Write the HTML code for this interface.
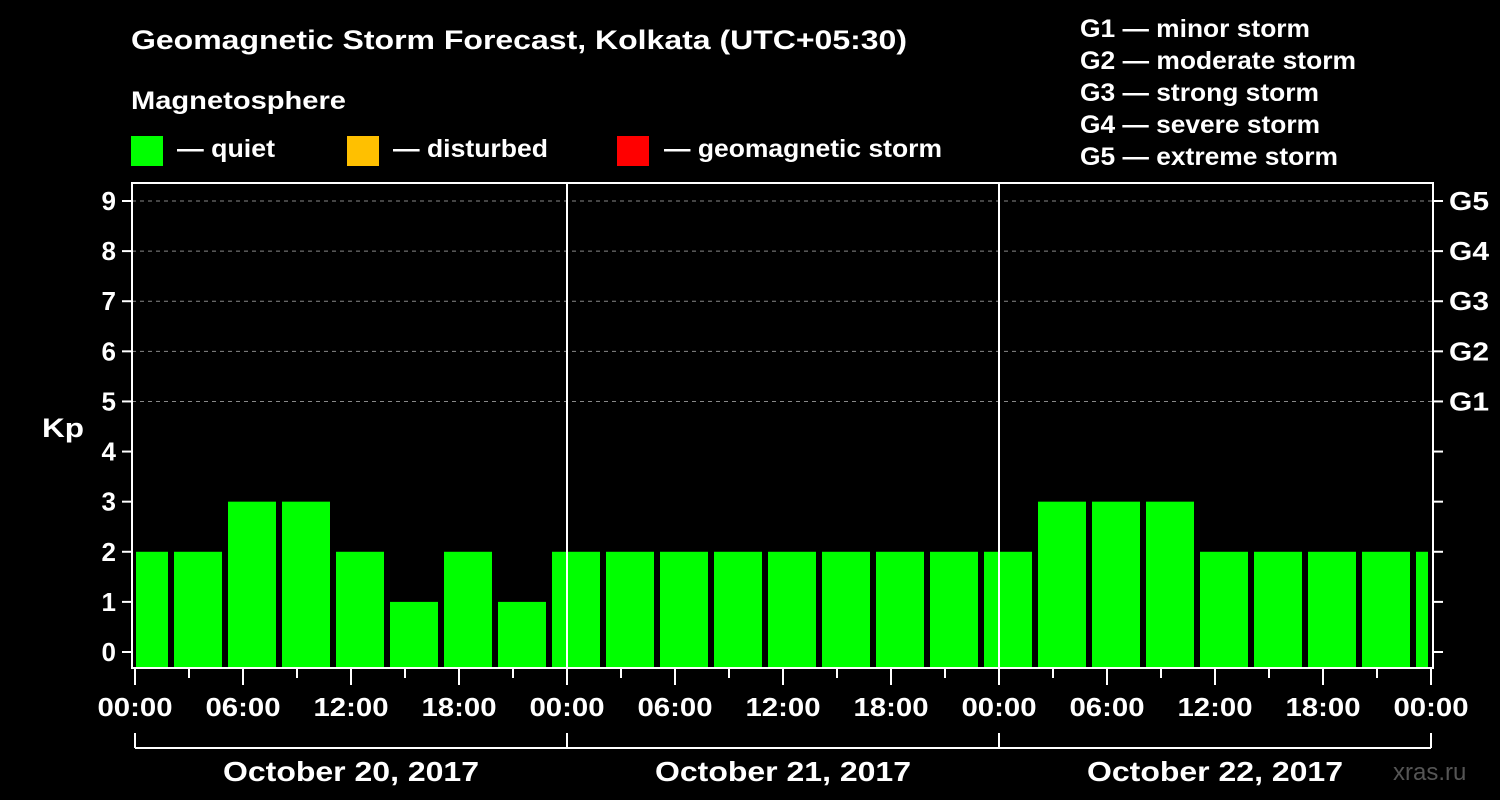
<!DOCTYPE html>
<html><head><meta charset="utf-8"><style>
html,body{margin:0;background:#000;overflow:hidden;}
svg{display:block;}
svg text{font-family:"Liberation Sans",Arial,sans-serif;font-weight:bold;fill:#fff;}
</style></head><body>
<svg id="c" width="1500" height="800" viewBox="0 0 1500 800" xmlns="http://www.w3.org/2000/svg" font-family="Liberation Sans, sans-serif">
<rect width="1500" height="800" fill="#000"/>
<text x="131" y="49" font-size="27" textLength="776" lengthAdjust="spacingAndGlyphs">Geomagnetic Storm Forecast, Kolkata (UTC+05:30)</text>
<text x="131" y="109" font-size="25" textLength="215" lengthAdjust="spacingAndGlyphs">Magnetosphere</text>
<g><rect x="131" y="136" width="32" height="30" fill="#00ff00"/><text x="177" y="157" font-size="25" textLength="98" lengthAdjust="spacingAndGlyphs">— quiet</text></g>
<g><rect x="347" y="136" width="32" height="30" fill="#ffc000"/><text x="393" y="157" font-size="25" textLength="155" lengthAdjust="spacingAndGlyphs">— disturbed</text></g>
<g><rect x="617" y="136" width="32" height="30" fill="#ff0000"/><text x="664" y="157" font-size="25" textLength="278" lengthAdjust="spacingAndGlyphs">— geomagnetic storm</text></g>
<g font-size="25">
<text x="1080" y="37" textLength="230" lengthAdjust="spacingAndGlyphs">G1 — minor storm</text>
<text x="1080" y="69" textLength="276" lengthAdjust="spacingAndGlyphs">G2 — moderate storm</text>
<text x="1080" y="101" textLength="239" lengthAdjust="spacingAndGlyphs">G3 — strong storm</text>
<text x="1080" y="133" textLength="240" lengthAdjust="spacingAndGlyphs">G4 — severe storm</text>
<text x="1080" y="165" textLength="258" lengthAdjust="spacingAndGlyphs">G5 — extreme storm</text>
</g>
<text x="42" y="437" font-size="27" textLength="42" lengthAdjust="spacingAndGlyphs">Kp</text>
<text x="1393" y="780" font-size="24" style="fill:#555;font-weight:normal">xras.ru</text>
<g id="plot"></g>
</svg>
<script>
const kpValues=[2,2,3,3,2,1,2,1,2,2,2,2,2,2,2,2,2,3,3,3,2,2,2,2,2];
const dayLabels=["October 20, 2017","October 21, 2017","October 22, 2017"];
const timeLabels=["00:00","06:00","12:00","18:00"];
const gLabels=["G1","G2","G3","G4","G5"];
const firstBinHour=-1, binHours=3;
const X0=135,X1=1431,hours=72;
const X=h=>X0+(X1-X0)*h/hours;
const Y=k=>652-(652-201)*k/9;
const yTop=183,yBot=668;
const NS="http://www.w3.org/2000/svg";
const g=document.getElementById('plot');
function mk(t,a,p){const e=document.createElementNS(NS,t);for(const k in a)e.setAttribute(k,a[k]);(p||g).appendChild(e);return e;}
for(let k=5;k<=9;k++){const l=mk('line',{x1:132,x2:1433,y1:Y(k),y2:Y(k),stroke:'#888','stroke-width':1,'stroke-dasharray':'4,4'});

}
kpValues.forEach((v,i)=>{const h=firstBinHour+i*binHours;let a=Math.max(X(h)+3,136),b=Math.min(X(h+binHours)-3,1428);
const c=v>=5?'#ff0000':(v>=4?'#ffc000':'#00ff00');
const r=mk('rect',{x:a,y:Y(v),width:b-a,height:yBot-Y(v),fill:c});

});
const f=mk('rect',{x:132,y:yTop,width:1301,height:yBot-yTop,fill:'none',stroke:'#fff','stroke-width':2});


for(let d=1;d<3;d++){const l=mk('line',{x1:X(d*24),x2:X(d*24),y1:yTop,y2:yBot,stroke:'#fff','stroke-width':2});

}
for(let k=0;k<=9;k++){mk('line',{x1:122,x2:132,y1:Y(k),y2:Y(k),stroke:'#fff','stroke-width':2});
mk('line',{x1:1433,x2:1443,y1:Y(k),y2:Y(k),stroke:'#fff','stroke-width':2});
const t=mk('text',{x:116,y:Y(k)+9,'font-size':26,'text-anchor':'end'});t.textContent=k;

}
gLabels.forEach((s,i)=>{const t=mk('text',{x:1449,y:Y(5+i)+9,'font-size':26,textLength:40,lengthAdjust:'spacingAndGlyphs'});t.textContent=s;

});
for(let h=0;h<=hours;h+=3){const major=h%6===0;mk('line',{x1:X(h),x2:X(h),y1:yBot,y2:major?yBot+17:yBot+10,stroke:'#fff','stroke-width':2});
if(major){const t=mk('text',{x:X(h),y:716,'font-size':26,'text-anchor':'middle',textLength:75,lengthAdjust:'spacingAndGlyphs'});t.textContent=timeLabels[(h/6)%4];

}}
mk('line',{x1:X0,x2:X1,y1:748,y2:748,stroke:'#fff','stroke-width':2});
for(let d=0;d<=3;d++)mk('line',{x1:X(d*24),x2:X(d*24),y1:733,y2:748,stroke:'#fff','stroke-width':2});
dayLabels.forEach((s,d)=>{const t=mk('text',{x:X(d*24+12),y:781,'font-size':28,'text-anchor':'middle',textLength:256,lengthAdjust:'spacingAndGlyphs'});t.textContent=s;

});
</script>
</body></html>
